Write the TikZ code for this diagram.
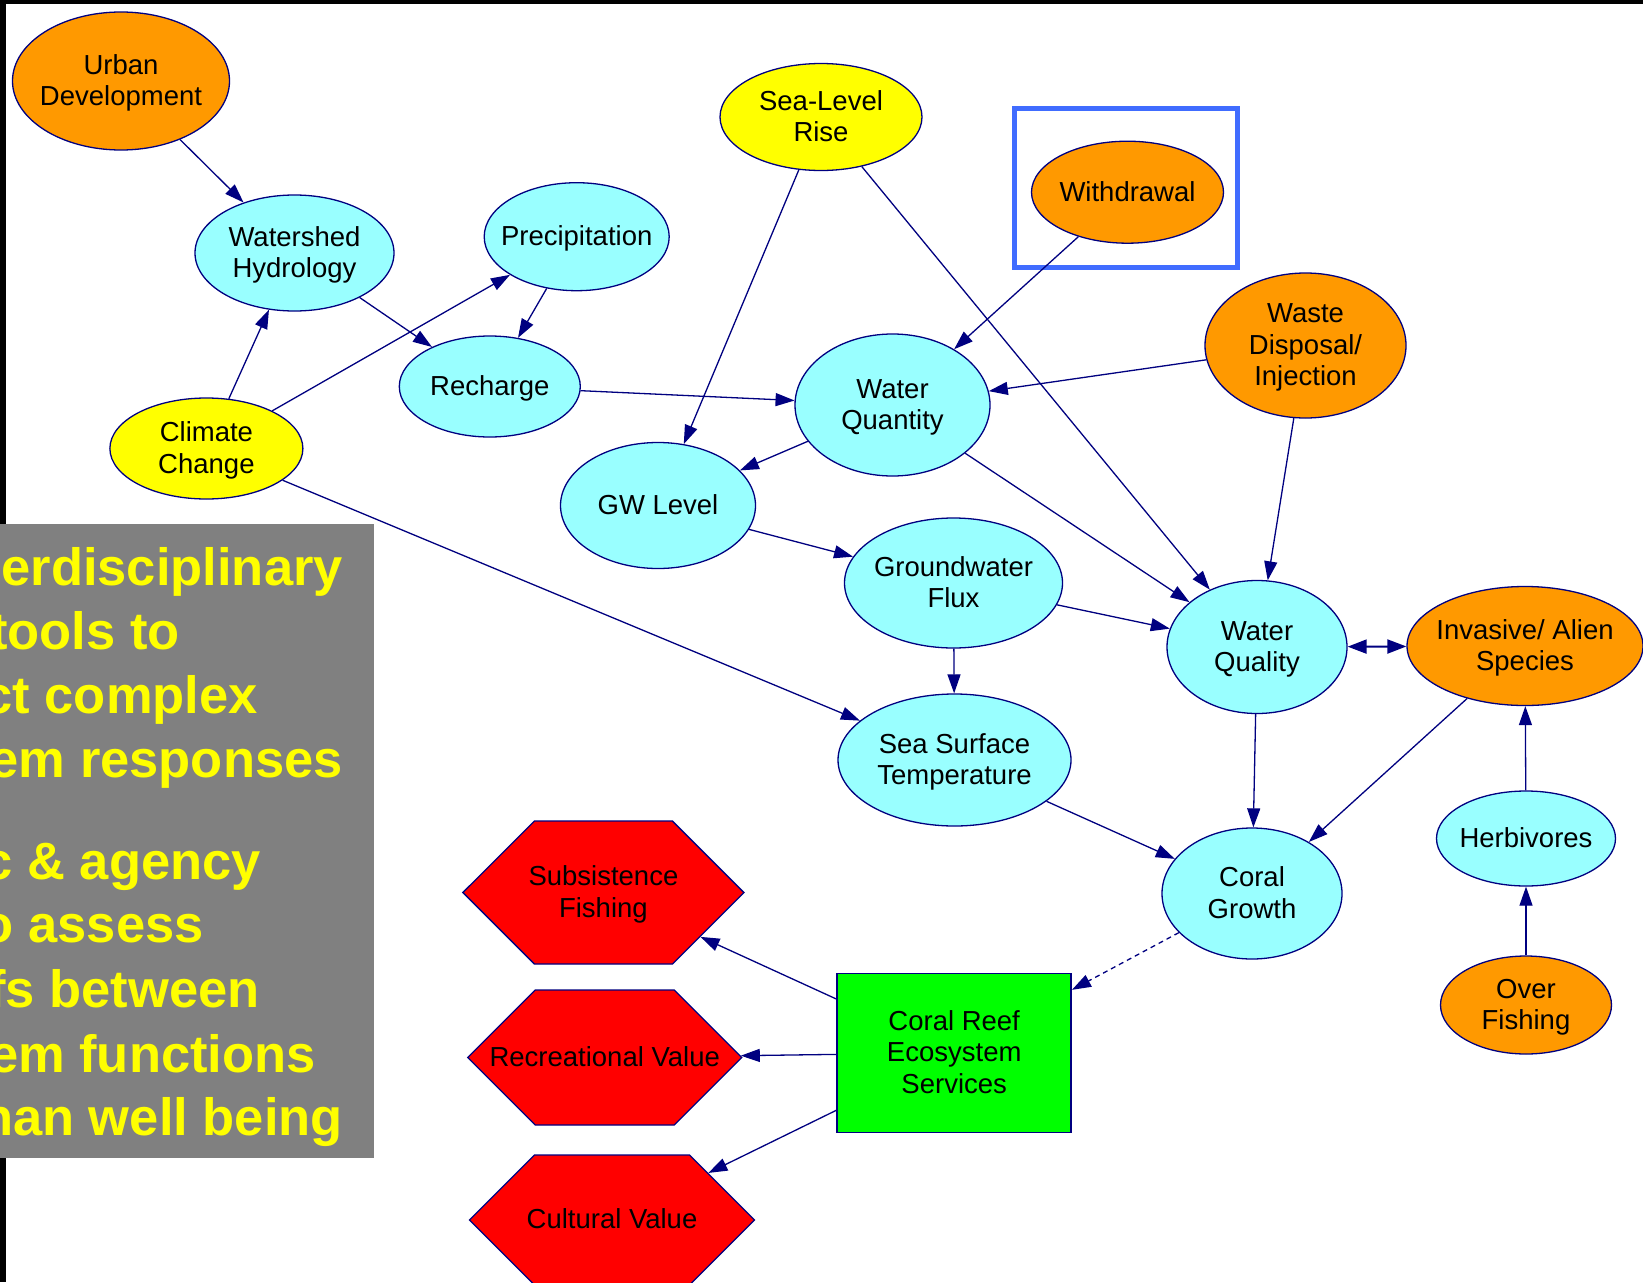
\documentclass[tikz,border=0pt]{standalone}
\usepackage{fontspec}
\setmainfont{Liberation Sans}
\usetikzlibrary{shapes.geometric,shapes.symbols,arrows.meta}
\definecolor{cyanfill}{RGB}{153,255,255}
\definecolor{orangefill}{RGB}{255,153,0}
\definecolor{yellowfill}{RGB}{255,255,0}
\definecolor{redfill}{RGB}{255,0,0}
\definecolor{greenfill}{RGB}{0,255,0}
\definecolor{navyline}{RGB}{0,0,128}
\definecolor{frameblue}{RGB}{64,108,255}
\definecolor{panelgray}{RGB}{128,128,128}
\definecolor{paneltext}{RGB}{255,255,0}
\newcommand{\ntx}[1]{\makebox[0pt]{\raisebox{-2.5pt}[\height][\depth]{\begin{tabular}{@{}c@{}}#1\end{tabular}}}}
\begin{document}
\begin{tikzpicture}[x=1pt,y=-1pt,
  lbl/.style={font=\fontsize{27.5}{31.5}\selectfont, text=black},
  ell/.style={lbl, ellipse, draw=navyline, line width=1.3pt, inner sep=0pt},
  cyannode/.style={ell, fill=cyanfill},
  orangenode/.style={ell, fill=orangefill},
  yellownode/.style={ell, fill=yellowfill},
  hexnode/.style={lbl, signal, signal to=east and west, signal pointer angle=90, draw=navyline, line width=1.3pt, fill=redfill, inner sep=0pt},
  boxnode/.style={lbl, rectangle, draw=navyline, line width=1.5pt, fill=greenfill, inner sep=0pt},
  link/.style={draw=navyline, line width=1.3pt, -{Triangle[length=19pt,width=13pt]}},
  twoway/.style={draw=navyline, line width=2pt, {Triangle[length=19pt,width=14pt]}-{Triangle[length=19pt,width=14pt]}},
  paneltxt/.style={font=\fontsize{52.5}{64}\selectfont\bfseries, text=paneltext, inner sep=0pt, anchor=base east},
]
\useasboundingbox (0,0) rectangle (1643,1282);
\clip (0,0) rectangle (1643,1282);
\fill[white] (0,0) rectangle (1643,1282);
\fill[black] (0,0) rectangle (1643,4);
\fill[black] (0,0) rectangle (6,1282);
\draw[frameblue, line width=5pt] (1014,108) rectangle (1237.5,267);

% nodes
\node[orangenode, minimum width=217pt, minimum height=138pt] (urban) at (121,81) {\ntx{Urban\\Development}};
\node[cyannode, minimum width=199pt, minimum height=116pt] (watershed) at (294.5,253) {\ntx{Watershed\\Hydrology}};
\node[cyannode, minimum width=185pt, minimum height=108pt] (precip) at (576.7,236.7) {\ntx{Precipitation}};
\node[cyannode, minimum width=181pt, minimum height=101pt] (recharge) at (489.8,386.5) {\ntx{Recharge}};
\node[yellownode, minimum width=193pt, minimum height=101pt] (climate) at (206.4,448.5) {\ntx{Climate\\Change}};
\node[yellownode, minimum width=202pt, minimum height=107pt] (sealevel) at (821,117) {\ntx{Sea-Level\\Rise}};
\node[orangenode, minimum width=192pt, minimum height=102pt] (withdrawal) at (1127.5,192.2) {\ntx{Withdrawal}};
\node[orangenode, minimum width=201pt, minimum height=145pt] (waste) at (1305.5,345.5) {\ntx{Waste\\Disposal/\\Injection}};
\node[cyannode, minimum width=195pt, minimum height=142pt] (wquantity) at (892.5,405) {\ntx{Water\\Quantity}};
\node[cyannode, minimum width=195pt, minimum height=126pt] (gwlevel) at (658,505.5) {\ntx{GW Level}};
\node[cyannode, minimum width=218pt, minimum height=130pt] (gwflux) at (953.5,583) {\ntx{Groundwater\\Flux}};
\node[cyannode, minimum width=180pt, minimum height=133pt] (wquality) at (1257,647) {\ntx{Water\\Quality}};
\node[orangenode, minimum width=236pt, minimum height=119pt] (invasive) at (1525,646) {\ntx{Invasive/ Alien\\Species}};
\node[cyannode, minimum width=233pt, minimum height=132pt] (sst) at (954.5,760) {\ntx{Sea Surface\\Temperature}};
\node[cyannode, minimum width=180pt, minimum height=131pt] (coral) at (1252,893.5) {\ntx{Coral\\Growth}};
\node[cyannode, minimum width=179pt, minimum height=95pt] (herbivores) at (1526,838.5) {\ntx{Herbivores}};
\node[orangenode, minimum width=171pt, minimum height=98pt] (overfishing) at (1526,1005) {\ntx{Over\\Fishing}};
\node[boxnode, minimum width=234pt, minimum height=159pt] (cres) at (954.2,1052.8) {\ntx{Coral Reef\\Ecosystem\\Services}};
\node[hexnode, minimum width=281pt, minimum height=143pt] (subsistence) at (603.4,892.5) {\ntx{Subsistence\\Fishing}};
\node[hexnode, minimum width=274pt, minimum height=135pt] (recreational) at (604.7,1057.5) {\ntx{Recreational Value}};
\node[hexnode, minimum width=285pt, minimum height=130pt] (cultural) at (612,1220) {\ntx{Cultural Value}};

% connectors
\draw[link] (urban) -- (watershed);
\draw[link] (climate) -- (watershed);
\draw[link] (climate) -- (precip);
\draw[link] (watershed) -- (recharge);
\draw[link] (precip) -- (recharge);
\draw[link] (recharge) -- (wquantity);
\draw[link] (sealevel) -- (gwlevel);
\draw[link] (sealevel) -- (wquality);
\draw[link] (withdrawal) -- (wquantity);
\draw[link] (waste) -- (wquantity);
\draw[link] (waste) -- (wquality);
\draw[link] (wquantity) -- (gwlevel);
\draw[link] (wquantity) -- (wquality);
\draw[link] (gwlevel) -- (gwflux);
\draw[link] (gwflux) -- (wquality);
\draw[link] (gwflux) -- (sst);
\draw[link] (climate) -- (sst);
\draw[twoway] (wquality) -- (invasive);
\draw[link] (wquality) -- (coral);
\draw[link] (invasive) -- (coral);
\draw[link] (herbivores) -- (invasive);
\draw[link] (overfishing) -- (herbivores);
\draw[link] (sst) -- (coral);
\draw[link, dash pattern=on 5pt off 4pt] (coral) -- (cres);
\draw[link] (cres) -- (subsistence);
\draw[link] (cres) -- (recreational);
\draw[link] (cres) -- (cultural);

% text panel
\fill[panelgray] (0,524) rectangle (374,1158);
\begin{scope}
\clip (0,524) rectangle (374,1158);
\node[paneltxt] (p1) at (343,585) {erdisciplinary};
\node[paneltxt] (p2) at (180,649) {tools to};
\node[paneltxt] (p3) at (258,713) {ct complex};
\node[paneltxt] (p4) at (343,777) {em responses};
\node[paneltxt] (p5) at (261,879) {c \& agency};
\node[paneltxt] (p6) at (204,942) {o assess};
\node[paneltxt] (p7) at (260,1007) {fs between};
\node[paneltxt] (p8) at (316,1072) {em functions};
\node[paneltxt] (p9) at (343,1135) {han well being};
\end{scope}
\end{tikzpicture}
\end{document}
